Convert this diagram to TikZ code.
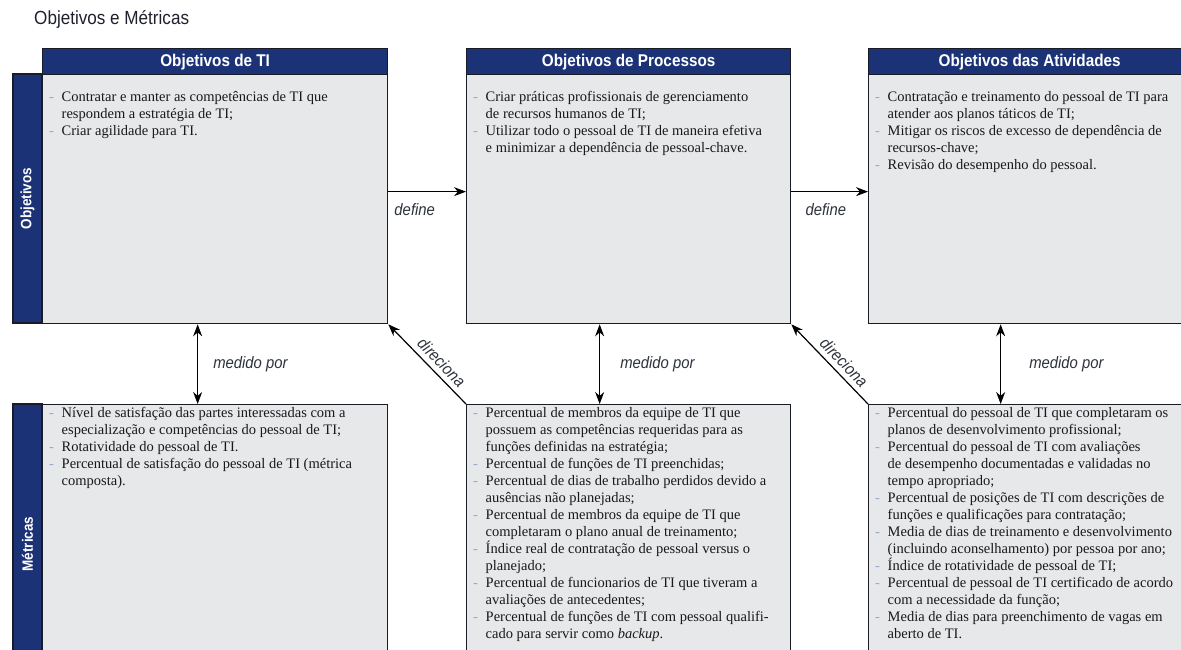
\documentclass[tikz,border=0pt]{standalone}
\usepackage{fontspec}
\setmainfont{Liberation Serif}
\newfontfamily\hdrfont[FakeStretch=0.9]{Liberation Sans}
\newfontfamily\lblfont[FakeStretch=0.9]{Liberation Sans}
\usetikzlibrary{arrows.meta}
\definecolor{navy}{RGB}{28,50,118}
\definecolor{bodyg}{RGB}{231,232,234}
\definecolor{edgec}{RGB}{25,28,38}
\definecolor{txtc}{RGB}{25,25,25}
\definecolor{bulc}{RGB}{150,170,200}
\definecolor{lblc}{RGB}{45,50,60}
\definecolor{ttlc}{RGB}{30,32,45}
\newcommand{\bi}{\makebox[12.5pt][l]{\textcolor{bulc}{-}}}
\newcommand{\ci}{\makebox[12.5pt]{}}
\begin{document}
\begin{tikzpicture}[x=1pt,y=-1pt,
  hdr/.style={draw=edgec, fill=navy, line width=1.3pt, text=white, anchor=north west,
    minimum height=26pt, inner sep=0pt, font=\hdrfont\bfseries\fontsize{17}{20}\selectfont},
  bodybox/.style={draw=edgec, fill=bodyg, line width=1.3pt, anchor=north west, inner sep=0pt},
  sidebar/.style={draw=edgec, fill=navy, line width=1.3pt, text=white, rotate=90, inner sep=0pt,
    minimum height=29pt, font=\hdrfont\bfseries\fontsize{15}{17}\selectfont},
  txt/.style={anchor=north west, align=left, inner sep=0pt, text=txtc,
    font=\fontsize{14.5}{17}\selectfont},
  lbl/.style={font=\lblfont\itshape\fontsize{16.5}{19}\selectfont, text=lblc, inner sep=0pt},
  conn/.style={draw=black, line width=1.2pt, -{Stealth[length=12pt,width=9pt]}},
  dconn/.style={draw=black, line width=1.2pt, {Stealth[length=12pt,width=9pt]}-{Stealth[length=12pt,width=9pt]}}
]
\useasboundingbox (0,0) rectangle (1181,649);
\clip (0,0) rectangle (1181,649);
\fill[white] (0,0) rectangle (1181,649);

\node[anchor=west, inner sep=0pt, text=ttlc, font=\hdrfont\fontsize{19}{22}\selectfont] (title) at (34,19) {Objetivos e Métricas};

% top row
\node[hdr, minimum width=345pt] (h1) at (42,48) {Objetivos de TI};
\node[bodybox, minimum width=345pt, minimum height=249pt] (b1) at (42,74) {};
\node[hdr, minimum width=324pt] (h2) at (466,48) {Objetivos de Processos};
\node[bodybox, minimum width=324pt, minimum height=249pt] (b2) at (466,74) {};
\node[hdr, minimum width=322pt] (h3) at (868,48) {Objetivos das Atividades};
\node[bodybox, minimum width=322pt, minimum height=249pt] (b3) at (868,74) {};

% bottom row
\node[bodybox, minimum width=345pt, minimum height=280pt] (m1) at (42,404) {};
\node[bodybox, minimum width=324pt, minimum height=280pt] (m2) at (466,404) {};
\node[bodybox, minimum width=322pt, minimum height=280pt] (m3) at (868,404) {};

% side bars
\node[sidebar, minimum width=249pt] (s1) at (27.5,198.5) {Objetivos};
\node[sidebar, minimum width=280pt] (s2) at (27.5,544) {Métricas};

% texts
\node[txt] (t1) at (49,91) {\bi Contratar e manter as competências de TI que\\
\ci respondem a estratégia de TI;\\
\bi Criar agilidade para TI.};
\node[txt] (t2) at (473,91) {\bi Criar práticas profissionais de gerenciamento\\
\ci de recursos humanos de TI;\\
\bi Utilizar todo o pessoal de TI de maneira efetiva\\
\ci e minimizar a dependência de pessoal-chave.};
\node[txt] (t3) at (875,91) {\bi Contratação e treinamento do pessoal de TI para\\
\ci atender aos planos táticos de TI;\\
\bi Mitigar os riscos de excesso de dependência de\\
\ci recursos-chave;\\
\bi Revisão do desempenho do pessoal.};

\node[txt] (u1) at (49,407) {\bi Nível de satisfação das partes interessadas com a\\
\ci especialização e competências do pessoal de TI;\\
\bi Rotatividade do pessoal de TI.\\
\bi Percentual de satisfação do pessoal de TI (métrica\\
\ci composta).};
\node[txt] (u2) at (473,407) {\bi Percentual de membros da equipe de TI que\\
\ci possuem as competências requeridas para as\\
\ci funções definidas na estratégia;\\
\bi Percentual de funções de TI preenchidas;\\
\bi Percentual de dias de trabalho perdidos devido a\\
\ci ausências não planejadas;\\
\bi Percentual de membros da equipe de TI que\\
\ci completaram o plano anual de treinamento;\\
\bi Índice real de contratação de pessoal versus o\\
\ci planejado;\\
\bi Percentual de funcionarios de TI que tiveram a\\
\ci avaliações de antecedentes;\\
\bi Percentual de funções de TI com pessoal qualifi-\\
\ci cado para servir como \textit{backup}.};
\node[txt] (u3) at (875,407) {\bi Percentual do pessoal de TI que completaram os\\
\ci planos de desenvolvimento profissional;\\
\bi Percentual do pessoal de TI com avaliações\\
\ci de desempenho documentadas e validadas no\\
\ci tempo apropriado;\\
\bi Percentual de posições de TI com descrições de\\
\ci funções e qualificações para contratação;\\
\bi Media de dias de treinamento e desenvolvimento\\
\ci (incluindo aconselhamento) por pessoa por ano;\\
\bi Índice de rotatividade de pessoal de TI;\\
\bi Percentual de pessoal de TI certificado de acordo\\
\ci com a necessidade da função;\\
\bi Media de dias para preenchimento de vagas em\\
\ci aberto de TI.};

% connectors
\draw[conn] ([yshift=7.5pt]b1.east) -- ([yshift=7.5pt]b2.west)
  node[lbl, pos=0.34, below=11pt] {define};
\draw[conn] ([yshift=7.5pt]b2.east) -- ([yshift=7.5pt]b3.west)
  node[lbl, pos=0.45, below=11pt] {define};

\draw[dconn] ([xshift=-17.5pt]b1.south) -- ([xshift=-17.5pt]m1.north)
  node[lbl, midway, anchor=west, xshift=15pt] {medido por};
\draw[dconn] ([xshift=-29pt]b2.south) -- ([xshift=-29pt]m2.north)
  node[lbl, midway, anchor=west, xshift=20pt] {medido por};
\draw[dconn] ([xshift=-29pt]b3.south) -- ([xshift=-29pt]m3.north)
  node[lbl, midway, anchor=west, xshift=28pt] {medido por};

\draw[conn] (m2.north west) -- (b1.south east)
  node[lbl, pos=0.42, rotate=-45.7, anchor=south, yshift=5pt] {direciona};
\draw[conn] (m3.north west) -- (b2.south east)
  node[lbl, pos=0.42, rotate=-45.7, anchor=south, yshift=5pt] {direciona};
\end{tikzpicture}
\end{document}
